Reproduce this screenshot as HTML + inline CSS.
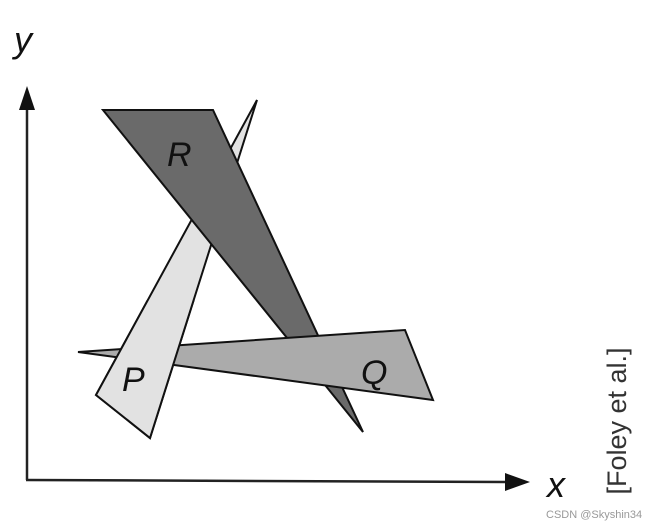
<!DOCTYPE html>
<html><head><style>html,body{margin:0;padding:0;background:#fff}svg{display:block}</style></head>
<body>
<svg width="656" height="528" viewBox="0 0 656 528" xmlns="http://www.w3.org/2000/svg">
<defs>
<clipPath id="low"><rect x="0" y="300" width="656" height="228"/></clipPath>
</defs>
<g stroke="#111" stroke-width="2" stroke-linejoin="miter">
<polygon points="257,100 96,395 150,438" fill="#e2e2e2"/>
<polygon points="103,110 213,110 363,432" fill="#6a6a6a"/>
<polygon points="78,352 405,330 433,400" fill="#ababab"/>
<polygon points="257,100 96,395 150,438" fill="#e2e2e2" clip-path="url(#low)"/>
</g>
<g font-family="Liberation Sans, sans-serif" font-style="italic" fill="#111" font-size="34">
<text x="167" y="166">R</text>
<text x="122" y="391">P</text>
<text x="361" y="384">Q</text>
<text x="14" y="52" font-size="36">y</text>
<text x="547" y="497" font-size="36">x</text>
</g>
<line x1="27" y1="480" x2="27" y2="108" stroke="#222" stroke-width="2.5"/>
<polygon points="27,86 19,110 35,110" fill="#111"/>
<line x1="26" y1="480" x2="505" y2="482" stroke="#222" stroke-width="2.5"/>
<polygon points="530,482 505,473 505,491" fill="#111"/>
<text transform="translate(626,421) rotate(-90)" text-anchor="middle" font-family="Liberation Sans, sans-serif" font-size="27" fill="#333">[Foley et al.]</text>
<text x="546" y="518" font-family="Liberation Sans, sans-serif" font-size="11" fill="#999">CSDN @Skyshin34</text>
</svg>
</body></html>
